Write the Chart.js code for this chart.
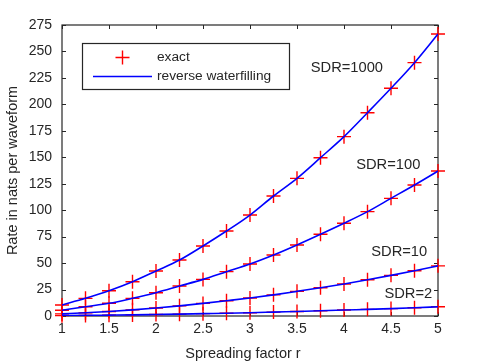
<!DOCTYPE html>
<html>
<head>
<meta charset="utf-8">
<script src="https://cdn.jsdelivr.net/npm/chart.js@4"></script>
<style>
  body { margin: 0; background: #fff; }
  #wrap { width: 485px; height: 363px; }
</style>
</head>
<body>
<div id="wrap"><canvas id="chart" width="485" height="363"></canvas></div>
<script>
// spreading factor r
const rValues = [1, 1.25, 1.5, 1.75, 2, 2.25, 2.5, 2.75, 3, 3.25, 3.5, 3.75, 4, 4.25, 4.5, 4.75, 5];

// rate in nats per waveform
const sdr1000 = [10.4, 16.7, 23.9, 32.4, 42.5, 52.9, 66.2, 80.3, 95.4, 113.4, 130.1, 149.6, 169.5, 192.1, 215.2, 239.4, 266.5];
const sdr100 = [5.4, 8.8, 12.0, 16.7, 22.0, 28.3, 34.6, 41.9, 49.1, 57.6, 67.1, 77.2, 87.6, 98.6, 111.2, 123.8, 137.0];
const sdr10 = [2.0, 3.0, 4.3, 5.8, 7.6, 9.6, 11.9, 14.4, 17.0, 20.0, 23.3, 26.7, 30.3, 34.2, 38.4, 42.8, 47.4];
const sdr2 = [0.35, 0.55, 0.8, 1.05, 1.4, 1.75, 2.2, 2.6, 3.1, 3.7, 4.3, 4.9, 5.6, 6.3, 7.0, 7.8, 8.7];

const seriesNames = ['SDR=1000', 'SDR=100', 'SDR=10', 'SDR=2'];
const allSeries = [sdr1000, sdr100, sdr10, sdr2];

// where the curve labels sit, in data units (left edge, middle of text)
const labelX = [3.646, 4.13, 4.29, 4.43];
const labelY = [234.6, 142.5, 60.7, 20.8];

const legendNames = ['exact', 'reverse waterfilling'];
const xTitle = 'Spreading factor r';

const FONT = "'Liberation Sans', Arial, Helvetica, sans-serif";
const INK = '#262626';

function pts(ys) { return rValues.map((x, i) => ({ x: x, y: ys[i] })); }

const datasets = [];
allSeries.forEach((ys) => {
  datasets.push({
    type: 'line', data: pts(ys), borderColor: '#0000ff', borderWidth: 1.6,
    pointRadius: 0, cubicInterpolationMode: 'monotone', fill: false, order: 0
  });
});
allSeries.forEach((ys) => {
  datasets.push({
    type: 'scatter', data: pts(ys), showLine: false, pointStyle: 'cross',
    pointRadius: 7, borderColor: '#ff0000', pointBorderWidth: 1.4, borderWidth: 1.4,
    clip: false, order: 1
  });
});

// box, inward ticks on all four sides, legend and curve labels
const frame = {
  id: 'frame',
  beforeDatasetsDraw(chart) {
    const { ctx, chartArea: a, scales } = chart;
    ctx.save();
    ctx.strokeStyle = INK;
    ctx.lineWidth = 1.2;
    ctx.strokeRect(a.left, a.top, a.right - a.left, a.bottom - a.top);
    ctx.lineWidth = 1;
    const len = 4;
    ctx.beginPath();
    scales.x.ticks.forEach(t => {
      const px = Math.round(scales.x.getPixelForValue(t.value)) + 0.5;
      ctx.moveTo(px, a.bottom); ctx.lineTo(px, a.bottom - len);
      ctx.moveTo(px, a.top); ctx.lineTo(px, a.top + len);
    });
    scales.y.ticks.forEach(t => {
      const py = Math.round(scales.y.getPixelForValue(t.value)) + 0.5;
      ctx.moveTo(a.left, py); ctx.lineTo(a.left + len, py);
      ctx.moveTo(a.right, py); ctx.lineTo(a.right - len, py);
    });
    ctx.stroke();
    ctx.restore();
  },
  afterDraw(chart) {
    const { ctx, scales } = chart;
    ctx.save();
    // x axis title (sits a little left of the axis centre in the original)
    ctx.fillStyle = INK;
    ctx.font = '14.5px ' + FONT;
    ctx.textAlign = 'center';
    ctx.textBaseline = 'middle';
    ctx.fillText(xTitle, 243, 354);
    // curve labels
    ctx.font = '14.7px ' + FONT;
    ctx.textAlign = 'left';
    seriesNames.forEach((name, i) => {
      ctx.fillText(name, scales.x.getPixelForValue(labelX[i]), scales.y.getPixelForValue(labelY[i]));
    });
    // legend
    const bx = 82.5, by = 43.5, bw = 207, bh = 46;
    ctx.fillStyle = '#fff';
    ctx.fillRect(bx, by, bw, bh);
    ctx.strokeStyle = INK;
    ctx.lineWidth = 1.2;
    ctx.strokeRect(bx, by, bw, bh);
    ctx.strokeStyle = '#ff0000';
    ctx.lineWidth = 1.4;
    ctx.beginPath();
    ctx.moveTo(115.5, 57.5); ctx.lineTo(129.5, 57.5);
    ctx.moveTo(122.5, 50.5); ctx.lineTo(122.5, 64.5);
    ctx.stroke();
    ctx.strokeStyle = '#0000ff';
    ctx.lineWidth = 1.6;
    ctx.beginPath();
    ctx.moveTo(93, 76.5); ctx.lineTo(152, 76.5);
    ctx.stroke();
    ctx.fillStyle = INK;
    ctx.font = '13.7px ' + FONT;
    ctx.fillText(legendNames[0], 157, 57.5);
    ctx.fillText(legendNames[1], 157, 76.5);
    ctx.restore();
  }
};

new Chart(document.getElementById('chart'), {
  data: { datasets },
  options: {
    responsive: false,
    animation: false,
    layout: { padding: { left: 0, top: 25, right: 47, bottom: 0 } },
    plugins: { legend: { display: false }, tooltip: { enabled: false } },
    scales: {
      x: {
        type: 'linear', min: 1, max: 5,
        ticks: { stepSize: 0.5, color: INK, padding: 5, font: { family: FONT, size: 14 }, maxRotation: 0,
          callback: (v) => String(v) },
        grid: { display: false, drawTicks: false },
        border: { display: false },
        title: { display: false },
        afterFit(s) { s.height = 47; }
      },
      y: {
        type: 'linear', min: 0, max: 275,
        ticks: { stepSize: 25, color: INK, padding: 10, font: { family: FONT, size: 14 },
          callback: (v) => String(v) },
        grid: { display: false, drawTicks: false },
        border: { display: false },
        title: { display: true, text: 'Rate in nats per waveform', color: INK, font: { family: FONT, size: 14.5 }, padding: { top: 4, bottom: 0 } },
        afterFit(s) { s.width = 62; }
      }
    }
  },
  plugins: [frame]
});
</script>
</body>
</html>
